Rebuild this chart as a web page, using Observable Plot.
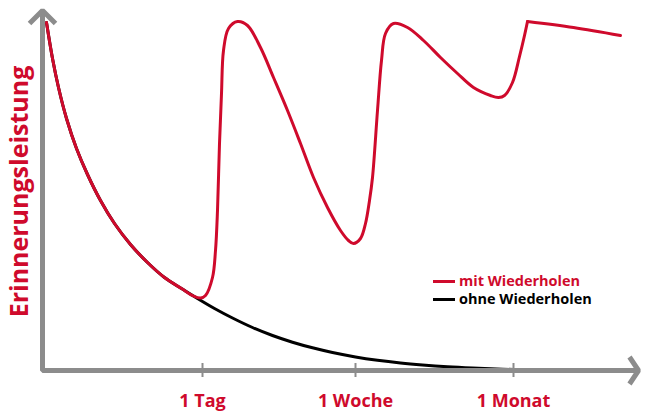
<!DOCTYPE html>
<html>
<head>
<meta charset="utf-8">
<script src="https://cdn.jsdelivr.net/npm/d3@7"></script>
<script src="https://cdn.jsdelivr.net/npm/@observablehq/plot@0.6"></script>
<style>
  html, body { margin: 0; padding: 0; background: #fff; }
  #wrap { position: relative; width: 645px; height: 411px; font-family: "Open Sans", sans-serif; }
  #wrap svg { overflow: visible; }
  #legend { position: absolute; left: 433px; top: 272px; font-weight: 700; font-size: 14.5px; line-height: 18px; }
  #legend .row { display: flex; align-items: center; white-space: nowrap; }
  #legend .sw { display: inline-block; width: 22px; height: 3px; margin-right: 4px; }
</style>
</head>
<body>
<div id="wrap"></div>
<script>
// Time axis in arbitrary units (0 = learning moment), memory in arbitrary units (0 = nothing)
const ohneX = [4, 10, 16, 24, 34, 45, 58, 72, 88, 105, 122, 139, 155, 172, 190, 210, 230, 250, 270, 290, 313, 335, 358, 380, 405, 430, 460, 500];
const ohneY = [348, 312, 283, 252, 222, 196, 170, 147, 126, 108, 93, 82, 72, 62, 52.5, 43, 35, 28.3, 22.7, 18, 13.6, 10.3, 7.6, 5.6, 3.8, 2.5, 1.3, 0.3];

const mitX = [4, 10, 16, 24, 34, 45, 58, 72, 88, 105, 122, 139, 151, 158, 163, 170, 173, 175, 177, 179, 181, 186, 195, 205, 218, 231, 245, 258, 271, 285, 298, 306, 311, 318, 323, 327, 330, 335, 339, 343, 351, 365, 381, 398, 415, 431, 448, 456, 462, 470, 477, 482, 485];
const mitY = [348, 312, 283, 252, 222, 196, 170, 147, 126, 108, 93, 82, 74.5, 72.5, 75, 93, 120, 160, 227, 277, 320, 342, 349, 345, 323, 293, 260, 227, 193, 163, 140, 130, 127, 132, 147, 170, 193, 260, 310, 337, 347, 343, 330, 313, 297, 283, 275, 273, 275, 288, 314, 335, 349];
const mitTailX = [485, 531, 578];
const mitTailY = [349, 343, 335];

const tickPos = [160, 313, 471];
const tickLabels = ["1 Tag", "1 Woche", "1 Monat"];

const seriesNames = ["mit Wiederholen", "ohne Wiederholen"];
const seriesColors = ["#cf0a2c", "#000000"];
const yLabel = "Erinnerungsleistung";

// axis frame (corner + arrow heads), in the same units
const axisPathX = [0, 0, 596];
const axisPathY = [360, 0, 0];
const yArrowX = [-13, 0, 13];
const yArrowY = [347, 360, 347];
const xArrowX = [587, 596, 587];
const xArrowY = [13.5, 0, -13.5];

const red = seriesColors[0], black = seriesColors[1], gray = "#8c8c8c";

const ohne = ohneX.map((x, i) => ({x, y: ohneY[i]}));
const mit = mitX.map((x, i) => ({x, y: mitY[i]}));
const mitTail = mitTailX.map((x, i) => ({x, y: mitTailY[i]}));
const axisPath = axisPathX.map((x, i) => ({x, y: axisPathY[i]}));
const yArrow = yArrowX.map((x, i) => ({x, y: yArrowY[i]}));
const xArrow = xArrowX.map((x, i) => ({x, y: xArrowY[i]}));
const ticks = tickPos.map((x, i) => ({x, label: tickLabels[i]}));

const chart = Plot.plot({
  width: 645,
  height: 411,
  marginLeft: 42,
  marginRight: 5,
  marginTop: 8,
  marginBottom: 41,
  x: {domain: [0, 598], axis: null},
  y: {domain: [0, 362], axis: null},
  style: {fontFamily: "Open Sans, sans-serif", background: "#fff", overflow: "visible"},
  marks: [
    Plot.line(ohne, {x: "x", y: "y", stroke: black, strokeWidth: 3, curve: "catmull-rom"}),
    Plot.line(mit, {x: "x", y: "y", stroke: red, strokeWidth: 3, curve: "catmull-rom"}),
    Plot.line(mitTail, {x: "x", y: "y", stroke: red, strokeWidth: 3, curve: "catmull-rom", strokeLinejoin: "round"}),
    Plot.line(axisPath, {x: "x", y: "y", stroke: gray, strokeWidth: 5, strokeLinejoin: "miter", strokeLinecap: "butt"}),
    Plot.line(yArrow, {x: "x", y: "y", stroke: gray, strokeWidth: 5, strokeLinejoin: "miter", strokeLinecap: "butt"}),
    Plot.line(xArrow, {x: "x", y: "y", stroke: gray, strokeWidth: 5, strokeLinejoin: "miter", strokeLinecap: "butt"}),
    Plot.ruleX(ticks, {x: "x", y1: 0, y2: 0, insetTop: -7, insetBottom: -7, stroke: gray, strokeWidth: 2}),
    Plot.text(ticks, {x: "x", y: 0, text: "label", dy: 31, fill: red, fontSize: 18, fontWeight: 700, textAnchor: "middle"}),
    Plot.text([yLabel], {frameAnchor: "left", dx: -23, dy: 2, rotate: -90, fill: red, fontSize: 25, fontWeight: 700, textAnchor: "middle"})
  ]
});

const wrap = document.getElementById("wrap");
wrap.appendChild(chart);

const legend = document.createElement("div");
legend.id = "legend";
seriesNames.forEach((name, i) => {
  const row = document.createElement("div");
  row.className = "row";
  const sw = document.createElement("span");
  sw.className = "sw";
  sw.style.background = seriesColors[i];
  const t = document.createElement("span");
  t.textContent = name;
  t.style.color = seriesColors[i];
  row.appendChild(sw);
  row.appendChild(t);
  legend.appendChild(row);
});
wrap.appendChild(legend);
</script>
</body>
</html>
